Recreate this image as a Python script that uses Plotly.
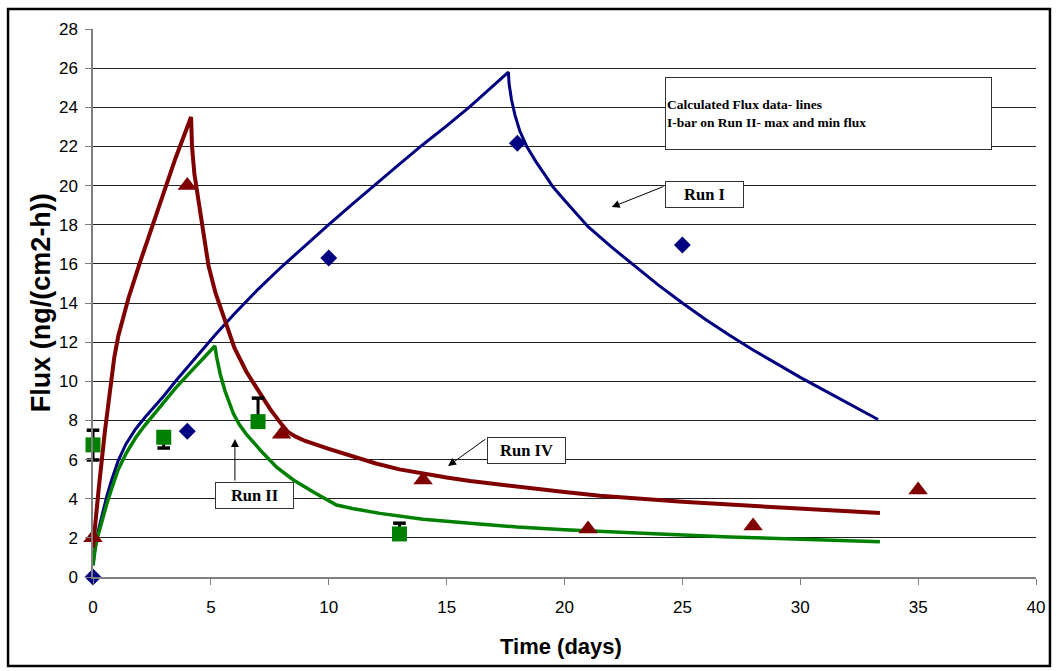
import plotly.graph_objects as go

# Measured flux (ng/(cm2-h)) vs time (days)
run1_days = [0, 4, 10, 18, 25]
run1_flux = [0.0, 7.45, 16.3, 22.16, 16.96]

run2_days = [0, 3, 7, 13]
run2_flux = [6.75, 7.14, 7.94, 2.2]
run2_err_plus = [0.75, 0.15, 1.2, 0.55]
run2_err_minus = [0.77, 0.55, 0.1, 0.0]

run4_days = [0, 4, 8, 14, 21, 28, 35]
run4_flux = [2.0, 20.0, 7.3, 4.96, 2.45, 2.6, 4.45]

# Calculated flux curves
calc1_days = [0, 0.1, 0.23, 0.4, 0.6, 0.8, 1.07, 1.4, 1.8, 2.2, 2.6, 3.0, 3.5, 4.0, 4.5,
              5.17, 6, 7, 8, 9, 10, 11, 12, 13, 14, 15, 16, 17, 17.62,
              17.65, 17.75, 17.9, 18.1, 18.4, 18.8, 19.2, 19.5, 20, 20.5, 21, 22, 23, 24,
              25, 26, 27, 28, 29, 30, 31, 32, 33.3]
calc1_flux = [0.6, 1.6, 2.4, 3.3, 4.2, 5.0, 5.95, 6.8, 7.55, 8.15, 8.7, 9.25, 10.0, 10.7,
              11.4, 12.35, 13.45, 14.7, 15.85, 16.95, 18.0, 19.05, 20.1, 21.1, 22.1, 23.05,
              24.05, 25.1, 25.8,
              25.2, 24.4, 23.6, 22.8, 22.0, 21.2, 20.5, 19.95, 19.25, 18.55, 17.9, 16.85,
              15.85, 14.9, 14.0, 13.15, 12.35, 11.6, 10.9, 10.2, 9.55, 8.9, 8.05]

calc2_days = [0, 0.1, 0.23, 0.4, 0.6, 0.8, 1.07, 1.4, 1.8, 2.2, 2.6, 3.0, 3.5, 4.0, 4.5,
              5.17, 5.25, 5.39, 5.6, 5.95, 6.2, 6.5, 7.22, 7.8, 8.5, 9.4, 10.33, 11.0, 12.17,
              14, 16, 18, 20, 22.35, 24.05, 27, 30, 33.38]
calc2_flux = [0.6, 1.5, 2.2, 3.0, 3.8, 4.55, 5.5, 6.3, 7.1, 7.75, 8.35, 8.95, 9.65, 10.3,
              10.95, 11.8, 11.2, 10.4, 9.5, 8.36, 7.8, 7.3, 6.32, 5.6, 4.96, 4.3, 3.68, 3.5,
              3.25, 2.95, 2.75, 2.55, 2.42, 2.28, 2.2, 2.05, 1.93, 1.8]

calc4_days = [0, 0.1, 0.25, 0.5, 0.75, 0.9, 1.07, 1.25, 1.5, 2, 2.5, 3, 3.5, 4.16,
              4.2, 4.3, 4.45, 4.65, 4.9, 5.2, 5.6, 6.0, 6.5, 7.0, 7.5, 8.0, 8.28,
              8.6, 9, 10, 11, 12, 13, 14, 15, 16, 17, 18, 19, 20, 21.5, 23, 25, 27, 29,
              31, 33.38]
calc4_flux = [1.5, 2.8, 4.6, 7.4, 10.0, 11.2, 12.3, 13.18, 14.23, 16.1, 17.9, 19.65, 21.4,
              23.5,
              22.0, 20.6, 19.4, 17.6, 15.9, 14.5, 13.1, 11.7, 10.5, 9.5, 8.6, 7.8, 7.4,
              7.17, 6.95, 6.55, 6.15, 5.8, 5.5, 5.28, 5.08, 4.9, 4.75, 4.6, 4.47, 4.34,
              4.15, 4.0, 3.85, 3.7, 3.55, 3.42, 3.27]

x_ticks = [0, 5, 10, 15, 20, 25, 30, 35, 40]
y_ticks = list(range(0, 29, 2))

NAVY = "#000080"
GREEN = "#008000"
MAROON = "#800000"
SERIF = "Liberation Serif, Times New Roman, serif"
SANS = "Liberation Sans, Arial, sans-serif"

fig = go.Figure()

fig.add_trace(go.Scatter(x=calc1_days, y=calc1_flux, mode="lines",
                         line=dict(color=NAVY, width=3), name="Run I calc"))
fig.add_trace(go.Scatter(x=calc2_days, y=calc2_flux, mode="lines",
                         line=dict(color=GREEN, width=3.5), name="Run II calc"))
fig.add_trace(go.Scatter(x=calc4_days, y=calc4_flux, mode="lines",
                         line=dict(color=MAROON, width=4), name="Run IV calc"))

fig.add_trace(go.Scatter(x=run1_days, y=run1_flux, mode="markers",
                         marker=dict(symbol="diamond", size=13, color=NAVY),
                         cliponaxis=False, name="Run I"))

# Run II max/min I-bar caps (unclipped markers, drawn beneath the squares)
cap_days = [d for d, m in zip(run2_days, run2_err_minus) if m > 0] + run2_days
cap_flux = ([f - m for f, m in zip(run2_flux, run2_err_minus) if m > 0]
            + [f + p for f, p in zip(run2_flux, run2_err_plus)])
fig.add_trace(go.Scatter(x=cap_days, y=cap_flux, mode="markers",
                         marker=dict(symbol="line-ew", size=9,
                                     line=dict(color="black", width=3.5)),
                         cliponaxis=False, name="Run II max/min", hoverinfo="skip"))

fig.add_trace(go.Scatter(x=run2_days, y=run2_flux, mode="markers",
                         marker=dict(symbol="square", size=15, color=GREEN),
                         error_y=dict(type="data", array=run2_err_plus,
                                      arrayminus=run2_err_minus, color="black",
                                      thickness=3, width=0),
                         cliponaxis=False, name="Run II"))

fig.add_trace(go.Scatter(x=run4_days, y=run4_flux, mode="markers",
                         marker=dict(symbol="triangle-up", size=17, color=MAROON),
                         cliponaxis=False, name="Run IV"))

annotations = []

# Note box
annotations.append(dict(
    x=31.2, y=23.68, xref="x", yref="y", showarrow=False,
    text="<b>Calculated Flux data- lines<br>I-bar on Run II- max and min flux</b>",
    font=dict(family=SERIF, size=13.5, color="black"),
    align="left", width=323, height=69, valign="middle",
    bgcolor="white", bordercolor="#333333", borderwidth=1, borderpad=1))

# Series labels with pointer arrows
label_boxes = [("<b>Run I</b>", 25.94, 19.55), ("<b>Run IV</b>", 18.39, 6.44),
               ("<b>Run II</b>", 6.85, 4.16)]
for txt, bx, by in label_boxes:
    annotations.append(dict(
        x=bx, y=by, xref="x", yref="y", showarrow=False, text=txt,
        font=dict(family=SERIF, size=16.5, color="black"),
        width=75, height=23, bgcolor="white", bordercolor="#333333",
        borderwidth=1, borderpad=1))

pointers = [((22.0, 18.9), (24.26, 19.98)), ((15.06, 5.67), (16.71, 7.10)),
            ((6.02, 7.05), (6.02, 4.85))]
for (tx, ty), (sx, sy) in pointers:
    annotations.append(dict(
        x=tx, y=ty, ax=sx, ay=sy, xref="x", yref="y", axref="x", ayref="y",
        text="", showarrow=True, arrowhead=2, arrowsize=1.6, arrowwidth=1,
        arrowcolor="black", standoff=0, startstandoff=0))

# Axis titles
annotations.append(dict(
    x=-0.055, y=0.5, xref="paper", yref="paper", xanchor="center", yanchor="middle",
    showarrow=False, text="<b>Flux (ng/(cm2-h))</b>", textangle=-90,
    font=dict(family=SANS, size=27, color="black")))
annotations.append(dict(
    x=0.496, y=-0.1277, xref="paper", yref="paper", xanchor="center", yanchor="middle",
    showarrow=False, text="<b>Time (days)</b>",
    font=dict(family=SANS, size=22, color="black")))

fig.update_layout(
    width=1057, height=671,
    margin=dict(l=93, r=21, t=29, b=94),
    paper_bgcolor="white", plot_bgcolor="white",
    showlegend=False,
    annotations=annotations,
    shapes=[dict(type="rect", xref="paper", yref="paper",
                 x0=-0.0901, x1=1.0148, y0=-0.1624, y1=1.0365,
                 line=dict(color="black", width=2.5), layer="below")],
    font=dict(family=SANS, size=17, color="black"),
)

fig.update_xaxes(range=[0, 40], tickvals=x_ticks, ticktext=[str(v) for v in x_ticks],
                 showgrid=False, zeroline=False, showline=True, linecolor="#808080",
                 linewidth=1.5, ticks="outside", ticklen=6, tickcolor="#808080",
                 ticklabelstandoff=8, tickfont=dict(family=SANS, size=17, color="black"))
fig.update_yaxes(range=[0, 28], tickvals=y_ticks, ticktext=[str(v) for v in y_ticks],
                 showgrid=True, gridcolor="#222222", gridwidth=1, zeroline=False,
                 showline=True, linecolor="#808080", linewidth=1.5, ticks="outside",
                 ticklen=6, tickcolor="#808080", ticklabelstandoff=4,
                 tickfont=dict(family=SANS, size=17, color="black"))

fig.write_html("out.html")
